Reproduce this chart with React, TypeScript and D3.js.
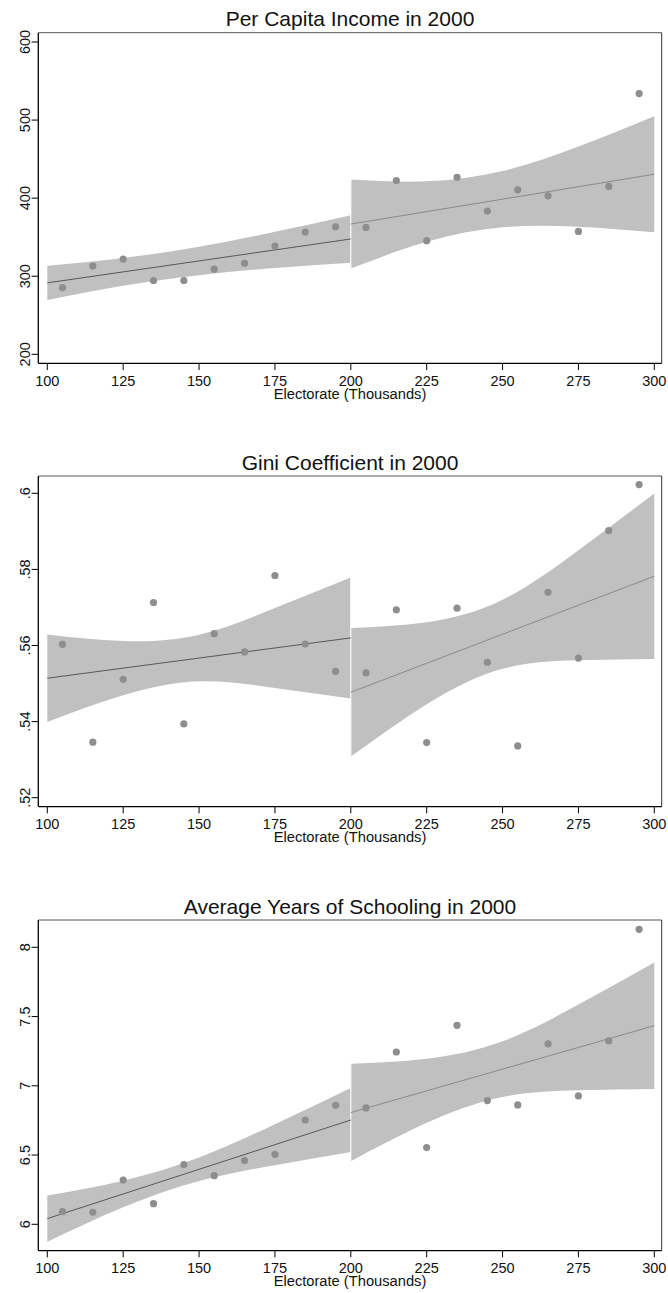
import React from "react";
import * as d3 from "d3";

// ---------- data ----------
const electorate = [105, 115, 125, 135, 145, 155, 165, 175, 185, 195, 205, 215, 225, 235, 245, 255, 265, 275, 285, 295];
const xTicks = [100, 125, 150, 175, 200, 225, 250, 275, 300];

const incomeValues = [285.5, 313, 322, 294.5, 294.5, 309, 316.6, 338.7, 356.6, 363.4, 362.5, 422.6, 345.5, 426.8, 383.4, 410.6, 403, 357.4, 415, 534];
const giniValues = [0.5603, 0.5346, 0.5511, 0.5713, 0.5394, 0.5631, 0.5583, 0.5784, 0.5604, 0.5532, 0.5528, 0.5694, 0.5345, 0.5698, 0.5556, 0.5336, 0.574, 0.5567, 0.5902, 0.6023];
const schoolingValues = [6.091, 6.087, 6.32, 6.149, 6.431, 6.351, 6.46, 6.505, 6.753, 6.859, 6.84, 7.244, 6.554, 7.437, 6.893, 6.862, 7.302, 6.927, 7.324, 8.13];

// sample positions of the fitted line / confidence band, each side of the 200 cutoff
const bandXLeft = [100, 125, 150, 175, 200];
const bandXRight = [200, 225, 250, 275, 300];

const incomeFitLeft = [291.5, 305.55, 319.6, 333.65, 347.7];
const incomeUpperLeft = [313.5, 323.4, 337.9, 356.9, 378.2];
const incomeLowerLeft = [269.5, 287.8, 301.3, 310.5, 317.2];
const incomeFitRight = [366.8, 382.75, 398.7, 414.65, 430.6];
const incomeUpperRight = [423.8, 421.5, 434.7, 466.1, 504.9];
const incomeLowerRight = [309.8, 344.1, 362.7, 363.3, 356.3];

const giniFitLeft = [0.5514, 0.55405, 0.5567, 0.55935, 0.562];
const giniUpperLeft = [0.5629, 0.56117, 0.56282, 0.56985, 0.5779];
const giniLowerLeft = [0.5399, 0.54693, 0.55058, 0.54885, 0.5461];
const giniFitRight = [0.5477, 0.555325, 0.56295, 0.570575, 0.5782];
const giniUpperRight = [0.5646, 0.56609, 0.57204, 0.58505, 0.59995];
const giniLowerRight = [0.5308, 0.54457, 0.55386, 0.55611, 0.55645];

const schoolFitLeft = [6.041, 6.219, 6.397, 6.575, 6.753];
const schoolUpperLeft = [6.2085, 6.3151, 6.482, 6.723, 6.984];
const schoolLowerLeft = [5.8735, 6.1229, 6.312, 6.427, 6.522];
const schoolFitRight = [6.807, 6.96375, 7.1205, 7.27725, 7.434];
const schoolUpperRight = [7.159, 7.1949, 7.3215, 7.587, 7.891];
const schoolLowerRight = [6.455, 6.7327, 6.9195, 6.9675, 6.977];

const incomeTicks = [200, 300, 400, 500, 600];
const incomeTickLabels = ["200", "300", "400", "500", "600"];
const giniTicks = [0.52, 0.54, 0.56, 0.58, 0.6];
const giniTickLabels = [".52", ".54", ".56", ".58", ".6"];
const schoolTicks = [6, 6.5, 7, 7.5, 8];
const schoolTickLabels = ["6", "6.5", "7", "7.5", "8"];

const titles = ["Per Capita Income in 2000", "Gini Coefficient in 2000", "Average Years of Schooling in 2000"];
const xAxisTitle = "Electorate (Thousands)";

// ---------- layout ----------
const W = 668;
const H = 1293;
const FRAME_L = 38.3;
const FRAME_R = 661.7;
const FRAME_H = 330.6;
const FONT = "'Liberation Sans', Arial, Helvetica, sans-serif";

const panels = [
  {
    title: titles[0], top: 32.7, values: incomeValues, ticks: incomeTicks, labels: incomeTickLabels,
    tickPx: [321.6, 9.3],
    fitL: incomeFitLeft, upL: incomeUpperLeft, loL: incomeLowerLeft,
    fitR: incomeFitRight, upR: incomeUpperRight, loR: incomeLowerRight,
  },
  {
    title: titles[1], top: 476, values: giniValues, ticks: giniTicks, labels: giniTickLabels,
    tickPx: [321.7, 17.3],
    fitL: giniFitLeft, upL: giniUpperLeft, loL: giniLowerLeft,
    fitR: giniFitRight, upR: giniUpperRight, loR: giniLowerRight,
  },
  {
    title: titles[2], top: 920, values: schoolingValues, ticks: schoolTicks, labels: schoolTickLabels,
    tickPx: [304.3, 27.3],
    fitL: schoolFitLeft, upL: schoolUpperLeft, loL: schoolLowerLeft,
    fitR: schoolFitRight, upR: schoolUpperRight, loR: schoolLowerRight,
  },
];

const x = d3.scaleLinear().domain([100, 300]).range([47.3, 654.3]);

function Panel({ p }: { p: (typeof panels)[number] }) {
  const top = p.top;
  const bottom = top + FRAME_H;
  const y = d3
    .scaleLinear()
    .domain([p.ticks[0], p.ticks[p.ticks.length - 1]])
    .range([top + p.tickPx[0], top + p.tickPx[1]]);

  const area = (xs: number[], lo: number[], hi: number[]) =>
    d3
      .area<number>()
      .x((_, i) => x(xs[i]))
      .y0((_, i) => y(lo[i]))
      .y1((_, i) => y(hi[i]))
      .curve(d3.curveNatural)(xs) || "";
  const line = (xs: number[], v: number[]) =>
    d3
      .line<number>()
      .x((_, i) => x(xs[i]))
      .y((_, i) => y(v[i]))(xs) || "";

  const cx = (FRAME_L + FRAME_R) / 2;
  return (
    <g>
      <text x={cx} y={top - 6.3} textAnchor="middle" fontFamily={FONT} fontSize={21} fill="#111">
        {p.title}
      </text>
      <path d={area(bandXLeft, p.loL, p.upL)} fill="#c0c0c0" />
      <path d={area(bandXRight, p.loR, p.upR)} fill="#c0c0c0" />
      <line x1={x(200)} x2={x(200)} y1={top + 1} y2={bottom - 1} stroke="#fff" strokeWidth={1.1} />
      <path d={line(bandXLeft, p.fitL)} fill="none" stroke="#585858" strokeWidth={1} />
      <path d={line(bandXRight, p.fitR)} fill="none" stroke="#8a8a8a" strokeWidth={1} />
      {p.values.map((v, i) => (
        <circle key={i} cx={x(electorate[i])} cy={y(v)} r={3.6} fill="#8e8e8e" />
      ))}
      {/* frame */}
      <line x1={FRAME_L} x2={FRAME_R} y1={top} y2={top} stroke="#555" strokeWidth={1} />
      <line x1={FRAME_R} x2={FRAME_R} y1={top} y2={bottom} stroke="#333" strokeWidth={1} />
      <line x1={FRAME_L} x2={FRAME_L} y1={top} y2={bottom} stroke="#000" strokeWidth={1.3} />
      <line x1={FRAME_L} x2={FRAME_R} y1={bottom} y2={bottom} stroke="#000" strokeWidth={1.3} />
      {/* x ticks */}
      {xTicks.map((t) => (
        <g key={t}>
          <line x1={x(t)} x2={x(t)} y1={bottom} y2={bottom + 6.7} stroke="#000" strokeWidth={1} />
          <text x={x(t)} y={bottom + 22.7} textAnchor="middle" fontFamily={FONT} fontSize={14.5} fill="#111">
            {t}
          </text>
        </g>
      ))}
      <text x={cx} y={bottom + 35.8} textAnchor="middle" fontFamily={FONT} fontSize={14.7} fill="#111">
        {xAxisTitle}
      </text>
      {/* y ticks */}
      {p.ticks.map((t, i) => (
        <g key={t}>
          <line x1={FRAME_L - 6.7} x2={FRAME_L} y1={y(t)} y2={y(t)} stroke="#000" strokeWidth={1} />
          <text
            transform={`translate(29.5,${y(t)}) rotate(-90)`}
            textAnchor="middle"
            fontFamily={FONT}
            fontSize={14.5}
            fill="#111"
          >
            {p.labels[i]}
          </text>
        </g>
      ))}
    </g>
  );
}

export default function App() {
  return (
    <svg
      width={W}
      height={H}
      viewBox={`0 0 ${W} ${H}`}
      style={{ position: "absolute", left: 0, top: 0, background: "#fff" }}
    >
      <rect x={0} y={0} width={W} height={H} fill="#fff" />
      {panels.map((p, i) => (
        <Panel key={i} p={p} />
      ))}
    </svg>
  );
}
